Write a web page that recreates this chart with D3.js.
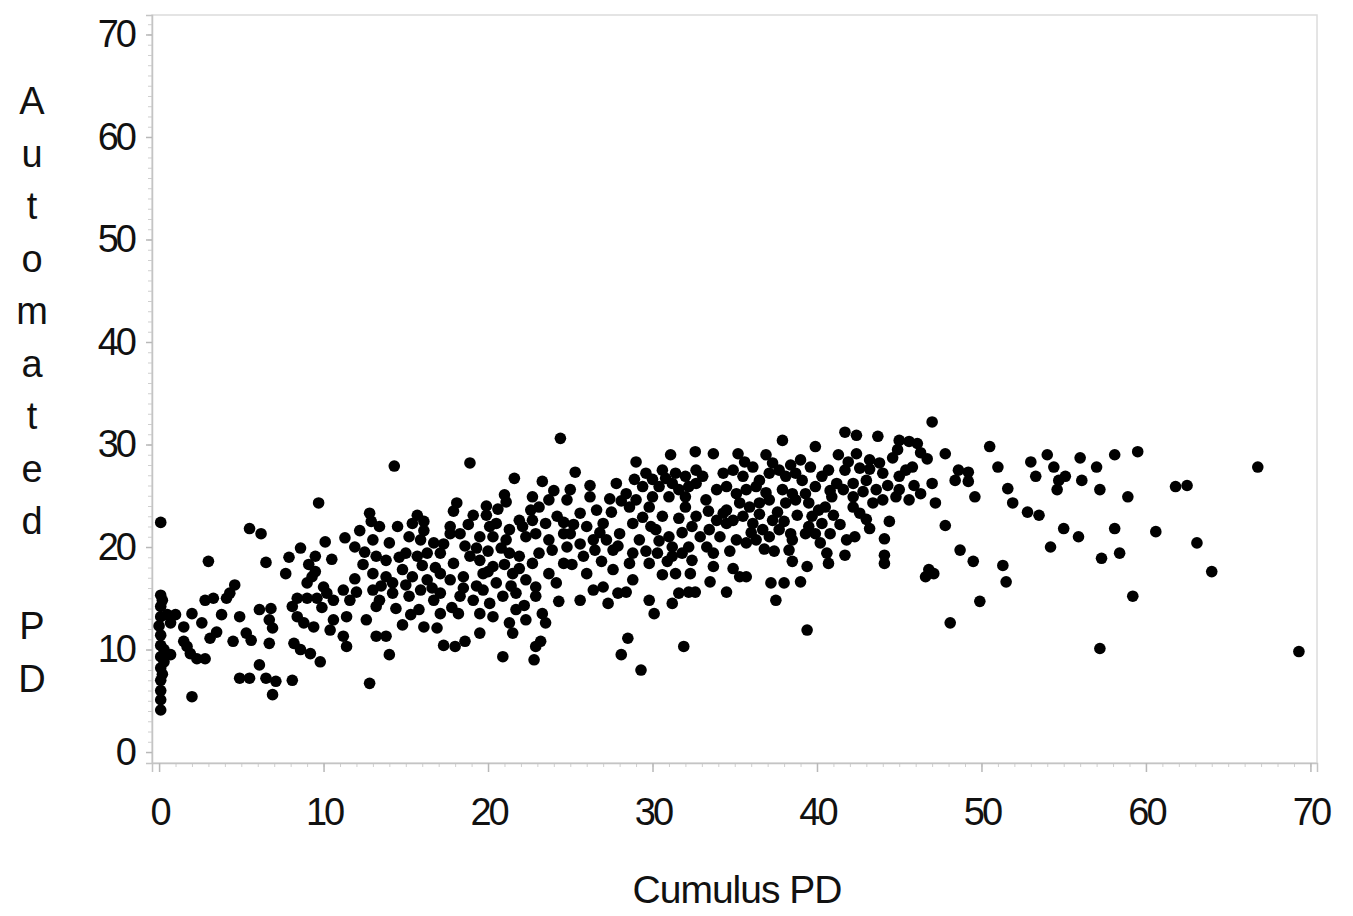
<!DOCTYPE html>
<html>
<head>
<meta charset="utf-8">
<script src="https://cdn.jsdelivr.net/npm/d3@7"></script>
<style>
  body { margin: 0; background: #fff; }
  .tick text { font-family: "Liberation Sans", Arial, sans-serif; }
</style>
</head>
<body>
<div class="chart"></div>
<script>
// tick labels and titles
var xTicks = [0, 10, 20, 30, 40, 50, 60, 70];
var yTicks = [0, 10, 20, 30, 40, 50, 60, 70];
var xTitle = "Cumulus PD";
var yTitle = "Automated PD";

// points, [cumulus, automated], grouped by cumulus range
var band0to11 = [
  [0.1,22.4],[9.7,24.3],[5.5,21.8],[6.2,21.3],[3.0,18.6],[6.5,18.5],[8.6,19.9],[7.9,19.0],[7.7,17.4],[9.5,19.1],
  [10.5,18.8],[10.1,20.5],[9.3,17.1],[9.5,17.6],[9.0,16.5],[4.6,16.3],[4.3,15.5],[4.1,15.0],[2.8,14.8],[3.3,15.0],
  [0.1,15.3],[0.2,14.8],[0.1,14.2],[0.1,13.2],[0.0,12.3],[0.5,13.4],[1.0,13.4],[0.7,12.6],[2.0,13.5],[1.5,12.2],
  [2.6,12.6],[3.8,13.4],[3.5,11.7],[3.1,11.1],[4.9,13.2],[6.1,13.9],[6.8,14.0],[5.3,11.6],[5.6,10.9],[4.5,10.8],
  [6.7,12.9],[6.9,12.1],[6.7,10.6],[8.4,15.0],[9.0,15.0],[9.6,15.0],[8.4,13.2],[8.8,12.6],[9.4,12.2],[8.2,10.6],
  [8.6,10.0],[9.2,9.6],[9.8,8.8],[10.2,15.5],[10.6,14.8],[10.6,12.9],[10.4,11.9],[2.0,5.4],[6.1,8.5],[4.9,7.2],
  [5.5,7.2],[6.5,7.2],[7.1,6.9],[8.1,7.0],[6.9,5.6],[0.1,10.4],[0.1,9.3],[0.3,8.8],[0.1,8.2],[0.2,7.6],
  [0.1,7.0],[0.1,6.0],[0.1,5.1],[0.1,4.1],[0.7,9.5],[1.5,10.8],[1.9,9.6],[2.3,9.1],[2.8,9.1],[1.7,10.3],
  [0.1,11.4],[0.3,10.0],[9.9,14.1],[10.0,16.1],[9.1,18.3],[8.1,14.2]
];

var band11to23 = [
  [12.8,23.3],[12.9,22.5],[13.4,22.0],[15.7,23.1],[15.4,22.3],[17.9,23.5],[17.7,22.0],[19.1,23.1],[19.9,23.1],[20.5,22.3],
  [21.0,25.1],[21.1,24.4],[22.7,24.9],[22.6,23.6],[21.9,22.6],
  [11.3,20.9],[11.9,20.0],[13.0,20.7],[14.0,20.4],[15.2,21.0],[15.9,20.7],[16.7,20.4],[17.7,21.3],[18.3,21.3],[19.5,21.0],
  [20.3,21.0],[21.1,20.7],[22.3,21.0],[22.9,21.3],
  [12.5,19.5],[13.2,19.1],[13.8,18.7],[15.0,19.4],[15.7,19.1],[16.3,19.4],[17.1,19.4],[17.9,18.4],[18.9,19.1],[19.5,18.7],
  [20.3,18.1],[21.3,19.4],[21.9,19.1],[22.7,18.4],
  [11.9,16.9],[13.0,17.4],[13.8,17.1],[14.8,17.8],[15.4,17.1],[16.3,16.8],[17.1,17.4],[17.7,16.8],[18.5,17.1],[19.7,17.4],
  [20.5,16.5],[21.5,17.4],[22.3,16.8],[22.9,16.1],
  [11.2,15.8],[11.6,14.8],[13.0,15.8],[13.4,14.8],[14.2,15.5],[15.2,15.2],[15.9,15.8],[16.7,14.8],[17.1,15.5],[18.3,15.2],
  [19.1,14.8],[20.1,14.5],[20.9,15.2],[21.7,15.5],[22.9,15.2],
  [11.4,13.2],[12.6,12.9],[13.2,14.2],[14.8,12.4],[15.3,13.4],[16.1,12.2],[16.9,12.1],[17.1,13.5],[18.2,13.5],[19.5,13.5],
  [20.3,13.2],[21.3,12.6],[21.7,13.9],[22.3,12.9],
  [11.2,11.3],[11.4,10.3],[13.2,11.3],[13.8,11.3],[14.0,9.5],[17.3,10.4],[18.0,10.3],[18.6,10.8],[19.5,11.6],[21.5,11.6],
  [22.9,10.3],[20.9,9.3],[12.8,6.7],[14.3,27.9],[18.9,28.2],[21.6,26.7],[22.8,9.0],[22.7,22.6],
  [12.2,21.6],[14.5,22.0],[14.6,19.0],[16.0,18.2],[16.8,18.0],[14.2,16.5],[16.6,16.0],[12.4,18.3],[13.5,16.2],[15.0,16.3],
  [16.1,21.6],[17.3,20.3],[18.6,20.1],[19.3,19.9],[20.0,19.6],[20.8,19.9],[18.8,22.2],[20.1,22.0],[21.3,21.7],[22.1,22.0],
  [18.5,16.0],[19.3,16.2],[20.0,17.6],[21.0,18.3],[21.9,17.9],[19.9,24.0],[12.0,15.6],[14.4,14.0],[15.8,13.9],[17.8,14.1],
  [19.7,15.8],[21.4,16.2],[22.2,14.3],[16.1,22.5],[18.1,24.3],[20.6,23.7]
];

var band23to34 = [
  [24.4,30.6],[25.3,27.3],[23.3,26.4],[23.3,13.5],[23.5,12.6],[23.2,10.8],[24.3,14.7],[25.6,14.8],[26.4,15.8],[27.0,16.1],
  [27.3,14.5],[27.9,15.5],[28.4,15.6],[28.5,11.1],[28.1,9.5],[29.3,8.0],[29.8,14.8],[30.1,13.5],[31.2,14.5],[31.6,15.5],
  [32.2,15.6],[32.6,15.6],[31.9,10.3],[30.6,17.3],[31.4,17.4],[32.3,17.4],[31.1,29.0],[32.6,29.3],[29.0,28.3],[29.6,27.2],
  [30.6,27.5],[30.8,26.7],[32.2,25.9],[32.0,24.9],[33.7,29.1],[33.5,16.6],
  [23.1,23.9],[23.7,24.6],[23.5,22.3],[24.2,23.0],[23.7,20.7],[24.6,21.3],[23.1,19.4],[23.9,19.7],[24.8,20.0],[23.7,17.4],
  [24.6,18.4],[24.8,24.6],[25.6,23.3],[26.2,24.9],[26.6,23.6],[26.0,22.0],[27.0,22.3],[26.4,20.7],[27.2,20.7],[28.0,21.3],
  [27.6,19.7],[27.8,26.2],[28.4,25.2],[28.6,23.9],[28.8,22.3],[29.2,20.7],[28.8,19.4],[29.4,25.9],[30.0,24.9],[30.4,25.9],
  [30.6,23.0],[30.2,21.7],[31.0,21.0],[31.2,20.0],[29.8,23.9],[31.0,24.9],[31.6,25.6],[32.0,23.9],[32.65,26.2],[32.65,23.0],
  [33.25,24.6],[33.9,25.6],[34.3,27.2],[34.5,23.6],[33.45,21.7],[34.1,21.0],[34.5,22.3],[31.4,27.2],[32.0,26.9],[32.65,27.5],
  [33.05,26.9],[31.8,19.4],[32.2,20.0],[32.4,18.7],[31.2,19.1],[33.7,19.4],[33.7,18.1],[29.8,18.4],[28.6,18.4],[28.8,16.8],
  [25.8,19.1],[26.0,17.4],[24.15,16.5],
  [24.0,25.5],[25.0,25.6],[25.2,22.2],[25.0,21.3],[25.6,20.3],[26.8,21.4],[27.5,23.4],[27.4,24.7],[28.1,24.5],[29.0,24.6],
  [29.4,22.9],[29.9,22.0],[30.4,20.6],[29.6,19.6],[27.9,20.1],[26.9,18.6],[27.6,17.8],[25.1,18.3],[24.6,22.4],[26.2,26.0],
  [28.9,26.6],[30.0,26.6],[31.2,26.2],[31.6,22.8],[32.4,22.0],[32.9,21.0],[33.3,20.0],[33.4,23.5],[33.9,22.6],[31.8,21.4],
  [30.9,18.6],[30.3,19.4],[26.5,19.7]
];

var band34to50 = [
  [34.9,27.5],[35.5,26.9],[36.1,27.8],[36.5,26.5],[34.5,25.9],[35.1,25.2],[35.7,25.6],[36.3,25.9],[37.1,27.2],[37.7,27.5],
  [38.1,26.9],[38.7,27.2],[39.1,26.5],[37.9,25.6],[38.5,25.2],[39.3,25.2],[39.9,25.9],[40.3,26.9],[40.7,27.5],[41.2,26.2],
  [41.6,25.6],[42.2,24.9],[35.3,24.3],[35.9,23.9],[36.5,24.3],[37.1,24.6],[34.3,23.3],[34.9,22.6],[35.5,23.0],[36.1,22.3],
  [36.7,21.7],[37.3,22.6],[37.7,21.7],[35.1,20.7],[35.7,20.4],[36.3,20.7],[37.1,21.0],[38.1,24.3],[38.7,24.6],[39.5,24.3],
  [40.1,23.6],[40.5,23.9],[39.7,23.0],[39.5,22.0],[39.3,21.3],[39.9,21.3],[40.3,22.3],[40.9,24.9],[41.7,27.5],[37.3,28.2],
  [38.3,19.7],
  [35.2,29.1],[36.9,29.0],[37.9,30.4],[39.9,29.8],[41.7,31.2],[42.4,30.9],[43.7,30.8],[45.0,30.4],[45.6,30.3],[46.1,30.1],
  [47.0,32.2],[41.3,29.0],[42.4,29.1],[43.2,28.5],[43.8,28.2],[44.6,28.7],[42.2,26.2],[43.0,26.5],[44.0,27.2],[45.0,26.9],
  [45.4,27.5],[45.8,27.8],[45.0,25.6],[44.8,24.9],[43.4,24.3],[44.0,24.6],[42.6,23.3],[42.2,23.9],[46.3,25.2],[47.0,26.2],
  [47.2,24.3],[47.8,22.1],[44.1,20.8],[44.1,19.2],[44.1,18.4],[43.2,21.8],[41.8,20.7],[42.3,21.0],[41.7,19.2],[40.6,19.4],
  [40.7,18.4],[39.4,18.1],[39.0,16.6],[38.5,18.6],[38.5,20.7],[38.4,21.3],[39.4,11.9],[37.5,14.8],[37.2,16.5],[38.0,16.5],
  [34.5,15.6],[34.9,17.9],[35.3,17.1],[35.7,17.1],[47.8,29.1],[46.7,28.6],[48.6,27.5],[49.2,27.3],[48.4,26.5],[49.6,24.9],
  [48.7,19.7],[49.5,18.6],[49.9,14.7],[48.1,12.6],[46.8,17.8],[46.6,17.1],[47.1,17.4],[49.2,26.4],
  [35.6,28.3],[36.9,25.3],[38.4,28.0],[39.6,27.8],[39.0,28.5],[40.8,25.5],[41.0,23.1],[40.8,21.3],[41.4,22.2],[37.6,23.4],
  [38.8,23.1],[38.0,22.5],[36.0,21.4],[36.8,19.8],[37.4,19.6],[34.7,19.6],[40.2,20.4],[42.8,25.4],[43.6,25.6],[43.0,22.7],
  [44.4,22.5],[45.6,24.6],[45.9,26.0],[44.3,26.0],[43.2,27.6],[42.6,27.7],[46.3,29.2],[44.9,29.5],[41.9,28.3],[36.5,23.2]
];

var band50to70 = [
  [50.5,29.8],[51.0,27.8],[51.6,25.7],[51.9,24.3],[52.8,23.4],[53.5,23.1],[53.0,28.3],[53.3,26.9],[54.0,29.0],[54.4,27.8],
  [54.7,26.5],[55.1,26.9],[54.6,25.6],[56.0,28.7],[56.1,26.5],[57.0,27.8],[57.2,25.6],[58.1,29.0],[59.5,29.3],[58.9,24.9],
  [61.8,25.9],[62.5,26.0],[66.8,27.8],[55.0,21.8],[55.9,21.0],[54.2,20.0],[58.1,21.8],[58.4,19.4],[57.3,18.9],[60.6,21.5],
  [63.1,20.4],[64.0,17.6],[59.2,15.2],[57.2,10.1],[69.3,9.8],[51.3,18.2],[51.5,16.6]
];

var points = band0to11.concat(band11to23, band23to34, band34to50, band50to70);

var width = 1353, height = 916;
var font = "'Liberation Sans', Arial, sans-serif";

var svg = d3.select(".chart").append("svg")
    .attr("width", width)
    .attr("height", height);

// plot frame is a bit wider than 0..70 on both axes
var x = d3.scaleLinear().domain([-0.43, 70.4]).range([152, 1317]);
var y = d3.scaleLinear().domain([-1.07, 71.9]).range([763, 15]);

// light frame round the plot
svg.append("rect")
    .attr("x", x.range()[0])
    .attr("y", y.range()[1])
    .attr("width", x.range()[1] - x.range()[0])
    .attr("height", y.range()[0] - y.range()[1])
    .attr("fill", "none")
    .attr("stroke", "#dcdcdc")
    .attr("stroke-width", 1.5);

// minor ticks
svg.append("g")
    .attr("transform", "translate(0," + y.range()[0] + ")")
    .call(d3.axisBottom(x).tickValues(d3.range(0, 71, 1)).tickSize(4).tickFormat(""))
    .call(function(g) { g.select(".domain").remove(); })
    .selectAll("line").attr("stroke", "#cfcfcf");

svg.append("g")
    .attr("transform", "translate(" + x.range()[0] + ",0)")
    .call(d3.axisLeft(y).tickValues(d3.range(0, 72, 1)).tickSize(4).tickFormat(""))
    .call(function(g) { g.select(".domain").remove(); })
    .selectAll("line").attr("stroke", "#cfcfcf");

// x axis
var gx = svg.append("g")
    .attr("transform", "translate(0," + y.range()[0] + ")")
    .call(d3.axisBottom(x).tickValues(xTicks).tickSize(9).tickPadding(26));
gx.select(".domain").attr("stroke", "#c4c4c4").attr("stroke-width", 1.5);
gx.selectAll(".tick line").attr("stroke", "#b8b8b8").attr("stroke-width", 1.5);
gx.selectAll(".tick text")
    .attr("fill", "#111")
    .style("font-size", "38px")
    .style("letter-spacing", "-3px");

// y axis
var gy = svg.append("g")
    .attr("transform", "translate(" + x.range()[0] + ",0)")
    .call(d3.axisLeft(y).tickValues(yTicks).tickSize(6).tickPadding(12));
gy.select(".domain").attr("stroke", "#c4c4c4").attr("stroke-width", 1.5);
gy.selectAll(".tick line").attr("stroke", "#b8b8b8").attr("stroke-width", 1.5);
gy.selectAll(".tick text")
    .attr("fill", "#111")
    .style("font-size", "38px")
    .style("letter-spacing", "-3px");

// axis titles
svg.append("text")
    .attr("x", 737)
    .attr("y", 903)
    .attr("text-anchor", "middle")
    .attr("fill", "#111")
    .style("font-family", font)
    .style("font-size", "39px")
    .style("letter-spacing", "-1px")
    .text(xTitle);

// vertical title, one letter per line
svg.append("g").selectAll("text")
    .data(yTitle.split(""))
    .enter().append("text")
    .attr("x", 32)
    .attr("y", function(d, i) { return 114 + i * 52.5; })
    .attr("text-anchor", "middle")
    .attr("fill", "#111")
    .style("font-family", font)
    .style("font-size", "38px")
    .text(function(d) { return d; });

// the dots
svg.append("g").selectAll("circle")
    .data(points)
    .enter().append("circle")
    .attr("cx", function(d) { return x(d[0]); })
    .attr("cy", function(d) { return y(d[1]); })
    .attr("r", 5.8)
    .attr("fill", "#000");
</script>
</body>
</html>
